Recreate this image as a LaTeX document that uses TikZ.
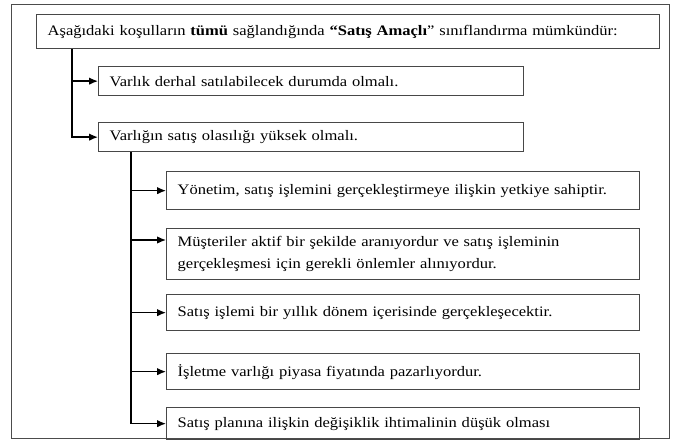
\documentclass[tikz,border=0pt]{standalone}
\usepackage{fontspec}
\setmainfont[FakeStretch=1.14]{Liberation Serif}
\usetikzlibrary{arrows.meta}

\tikzset{
    kutu/.style={draw=black!72, line width=1.3pt, anchor=north west, align=left,
        inner xsep=11pt, inner ysep=0pt, font=\fontsize{14.5}{22}\selectfont},
    ok/.style={-{Latex[length=9pt,width=7.5pt]}, line width=1.3pt},
}

\begin{document}
\begin{tikzpicture}[x=1pt,y=-1pt]
            \useasboundingbox (0,0) rectangle (675,443);
            \draw[black!70, line width=1pt] (11,5) rectangle (669,439);

            %Nodes
            \node[kutu, text width=601pt, minimum height=34pt] (baslik) at (36,14)
                {Aşağıdaki koşulların \textbf{tümü} sağlandığında \textbf{“Satış Amaçlı}” sınıflandırma mümkündür:};
            \node[kutu, text width=403pt, minimum height=29pt] (k1) at (98,66)
                {Varlık derhal satılabilecek durumda olmalı.};
            \node[kutu, text width=403pt, minimum height=29pt] (k2) at (98,122)
                {Varlığın satış olasılığı yüksek olmalı.};
            \node[kutu, text width=451pt, minimum height=38pt] (k3) at (166,171)
                {Yönetim, satış işlemini gerçekleştirmeye ilişkin yetkiye sahiptir.};
            \node[kutu, text width=451pt, minimum height=51pt] (k4) at (166,228)
                {Müşteriler aktif bir şekilde aranıyordur ve satış işleminin\\gerçekleşmesi için gerekli önlemler alınıyordur.};
            \node[kutu, text width=451pt, minimum height=36pt] (k5) at (166,294)
                {Satış işlemi bir yıllık dönem içerisinde gerçekleşecektir.};
            \node[kutu, text width=451pt, minimum height=36pt] (k6) at (166,353)
                {İşletme varlığı piyasa fiyatında pazarlıyordur.};
            \node[kutu, text width=451pt, minimum height=32pt] (k7) at (166,407)
                {Satış planına ilişkin değişiklik ihtimalinin düşük olması};

            \coordinate (g1) at ([xshift=36pt]baslik.south west);
            \coordinate (g2) at ([xshift=33pt]k2.south west);

            %Lines
            \draw[ok] (g1 |- k1.west) -- (k1.west);
            \draw[ok] (g1) |- (k2.west);
            \draw[ok] (g2 |- k3.west) -- (k3.west);
            \draw[ok] (g2 |- 0,240) -- (g2 |- 0,240 -| k4.west);
            \draw[ok] (g2 |- k5.west) -- (k5.west);
            \draw[ok] (g2 |- k6.west) -- (k6.west);
            \draw[ok] (g2) |- (k7.west);
        \end{tikzpicture}
\end{document}
